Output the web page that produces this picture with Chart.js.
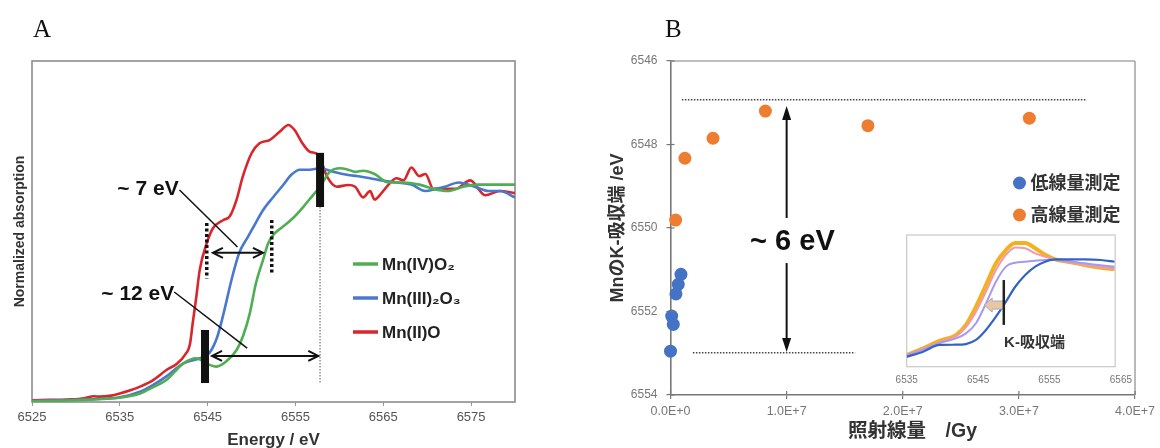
<!DOCTYPE html>
<html>
<head>
<meta charset="utf-8">
<script src="https://cdn.jsdelivr.net/npm/chart.js@4.4.1/dist/chart.umd.min.js"></script>
<style>
  html, body { margin: 0; padding: 0; background: #fff; }
  #fig { position: relative; width: 1160px; height: 448px; overflow: hidden; }
  canvas { position: absolute; }
  #cA { left: 0; top: 0; }
  #cB { left: 580px; top: 0; }
  #cIn { left: 870px; top: 225px; }
  .panel { position: absolute; top: 16px; font: 25px/1 "Liberation Serif", serif; color: #111; }
</style>
</head>
<body>
<div id="fig">
  <canvas id="cA" width="580" height="448"></canvas>
  <canvas id="cB" width="580" height="448"></canvas>
  <canvas id="cIn" width="270" height="170"></canvas>
  <div class="panel" style="left:33px">A</div>
  <div class="panel" style="left:665px">B</div>
</div>
<script>
"use strict";

// --- Panel A: Mn K-edge XANES of reference oxides ------------------------- //
const energyTicksA = [6525, 6535, 6545, 6555, 6565, 6575];

const mnO2E = [6525, 6528, 6531, 6533, 6535, 6537.3, 6538.8, 6540.3, 6541.2, 6542.2, 6543.7, 6544.9,
  6546.0, 6547.1, 6548.3, 6549.0, 6549.8, 6550.5, 6551.3, 6551.9, 6552.6, 6553.6, 6554.7, 6555.9,
  6557.0, 6557.8, 6558.9, 6560.1, 6561.0, 6561.8, 6562.7, 6564.0, 6565.6, 6567.3, 6569.1, 6570.7,
  6572.3, 6574.1, 6575.8, 6577.4, 6580];
const mnO2 = [0.004, 0.006, 0.01, 0.014, 0.02, 0.04, 0.07, 0.103, 0.14, 0.18, 0.205, 0.18,
  0.166, 0.19, 0.244, 0.306, 0.416, 0.557, 0.666, 0.745, 0.79, 0.823, 0.862, 0.916,
  0.971, 1.01, 1.08, 1.097, 1.09, 1.08, 1.085, 1.07, 1.03, 1.03, 1.02, 1.0,
  0.99, 1.01, 1.02, 1.02, 1.02];

const mn2O3E = [6525, 6528, 6531, 6533, 6535, 6537.3, 6538.8, 6540.3, 6541.2, 6542.2, 6543.2, 6544.1,
  6545.2, 6546.1, 6546.9, 6547.7, 6548.6, 6549.6, 6550.2, 6551.3, 6552.5, 6553.6, 6554.5, 6555.5,
  6556.6, 6557.8, 6559.3, 6561.0, 6562.0, 6563.5, 6564.8, 6566.5, 6568.2, 6569.8, 6571.0, 6572.0,
  6573.6, 6575.4, 6577.0, 6578.3, 6580];
const mn2O3 = [0.005, 0.008, 0.012, 0.015, 0.022, 0.048, 0.08, 0.12, 0.15, 0.18, 0.195, 0.205,
  0.23, 0.306, 0.43, 0.57, 0.70, 0.776, 0.82, 0.90, 0.963, 1.018, 1.065, 1.09,
  1.09, 1.097, 1.08, 1.065, 1.06, 1.05, 1.04, 1.03, 1.02, 0.99, 1.0, 1.01,
  1.03, 1.01, 0.99, 0.99, 0.96];

const mnOE = [6525, 6527, 6529, 6531, 6532, 6532.7, 6534, 6535, 6536.2, 6537.3, 6538.8, 6540.3,
  6541.5, 6542.4, 6543.0, 6543.3, 6543.7, 6544.1, 6544.9, 6545.6, 6546.8, 6547.5, 6548.3, 6549.0,
  6550.0, 6550.9, 6552.1, 6553.2, 6554.2, 6554.9, 6555.7, 6556.6, 6557.6, 6558.6, 6559.7, 6561.0,
  6561.8, 6562.7, 6563.5, 6564.0, 6564.8, 6565.6, 6566.5, 6567.3, 6568.2, 6569.1, 6569.8, 6570.7,
  6572.0, 6573.2, 6574.9, 6576.6, 6578.3, 6580];
const mnO = [0.008, 0.01, 0.012, 0.018, 0.027, 0.025, 0.03, 0.04, 0.055, 0.072, 0.103, 0.15,
  0.18, 0.22, 0.275, 0.37, 0.49, 0.62, 0.745, 0.815, 0.854, 0.87, 0.95, 1.057,
  1.167, 1.214, 1.23, 1.268, 1.30, 1.276, 1.22, 1.175, 1.16, 1.057, 1.01, 1.018,
  1.01, 0.96, 0.99, 0.95, 0.98, 1.02, 1.05, 1.04, 1.10, 1.06, 1.07, 1.0,
  1.0, 1.0, 1.04, 0.97, 0.99, 0.98];

// --- Panel B: edge position vs dose --------------------------------------- //
const doseTicks = [0, 1e7, 2e7, 3e7, 4e7];
const edgeTicks = [6546, 6548, 6550, 6552, 6554];
const lowDoseX = [9.0e5, 6.7e5, 4.7e5, 1.0e5, 2.4e5, 0];
const lowDoseEdge = [6551.11, 6551.35, 6551.58, 6552.11, 6552.31, 6552.95];
const highDoseX = [4.4e5, 1.24e6, 3.66e6, 8.17e6, 1.70e7, 3.09e7];
const highDoseEdge = [6549.81, 6548.33, 6547.85, 6547.2, 6547.55, 6547.37];

// --- Inset: spectra at increasing dose ------------------------------------ //
const insetTicks = [6535, 6545, 6555, 6565];
const insetE = [6535, 6537.3, 6539.6, 6541.9, 6543.3, 6544.7, 6546.1, 6547.5, 6548.9, 6550.2,
  6551.6, 6553.0, 6554.4, 6555.8, 6557.6, 6559.9, 6562.2, 6564.1];
const insetBlue = [0.076, 0.114, 0.165, 0.167, 0.172, 0.203, 0.279, 0.38, 0.494, 0.607,
  0.696, 0.76, 0.797, 0.815, 0.815, 0.815, 0.81, 0.797];
const insetViolet = [0.085, 0.13, 0.18, 0.215, 0.253, 0.33, 0.48, 0.645, 0.76, 0.79,
  0.797, 0.805, 0.81, 0.81, 0.80, 0.785, 0.77, 0.76];
const insetPink = [0.089, 0.135, 0.185, 0.23, 0.30, 0.418, 0.57, 0.734, 0.85, 0.906,
  0.90, 0.86, 0.835, 0.815, 0.795, 0.775, 0.755, 0.745];
const insetYellow = [0.089, 0.14, 0.197, 0.24, 0.317, 0.456, 0.62, 0.785, 0.886, 0.94,
  0.94, 0.90, 0.85, 0.815, 0.797, 0.772, 0.752, 0.74];

const SANS = "'Liberation Sans','Noto Sans CJK JP',Arial,sans-serif";
const GREEN = "#4fae52", BLUE = "#4a78cf", RED = "#d9262a";
const XL_BLUE = "#4472c4", XL_ORANGE = "#ed7d31";

const pts = (xs, ys) => xs.map((x, i) => ({ x, y: ys[i] }));

function line(ctx, x0, y0, x1, y1) {
  ctx.beginPath(); ctx.moveTo(x0, y0); ctx.lineTo(x1, y1); ctx.stroke();
}

// tip at (x, y), pointing along ang
function arrowHead(ctx, x, y, ang, len, half, filled) {
  ctx.save();
  ctx.translate(x, y); ctx.rotate(ang);
  ctx.beginPath(); ctx.moveTo(-len, -half); ctx.lineTo(0, 0); ctx.lineTo(-len, half);
  if (filled) { ctx.closePath(); ctx.fill(); } else ctx.stroke();
  ctx.restore();
}

function fixedTicks(list) {
  return (s) => { s.ticks = list.map((v) => ({ value: v })); };
}

// --- Chart A -------------------------------------------------------------- //
const annotateA = {
  id: "annotateA",
  beforeDatasetsDraw(chart) {
    const { ctx, chartArea: a } = chart;
    ctx.save();
    ctx.strokeStyle = "#8c8c8c"; ctx.lineWidth = 1.6;
    ctx.strokeRect(a.left, a.top, a.right - a.left, a.bottom - a.top);
    ctx.restore();
  },
  afterDatasetsDraw(chart) {
    const { ctx, chartArea: a, scales: { x, y } } = chart;
    const X = (v) => x.getPixelForValue(v), Y = (v) => y.getPixelForValue(v);
    ctx.save();
    ctx.strokeStyle = "#111"; ctx.fillStyle = "#111";

    // thin dotted drop line under the upper edge bar
    ctx.lineWidth = 1; ctx.strokeStyle = "#555"; ctx.setLineDash([1.5, 1.5]);
    line(ctx, X(6557.8), Y(0.915), X(6557.8), Y(0.089));
    // thick dotted markers
    ctx.strokeStyle = "#111"; ctx.lineWidth = 3.5; ctx.setLineDash([3, 2.5]);
    line(ctx, X(6544.9), Y(0.84), X(6544.9), Y(0.58));
    line(ctx, X(6552.3), Y(0.854), X(6552.3), Y(0.596));
    ctx.setLineDash([]);

    // solid edge bars
    ctx.lineWidth = 8; ctx.lineCap = "butt";
    line(ctx, X(6557.8), Y(1.169), X(6557.8), Y(0.915));
    line(ctx, X(6544.7), Y(0.338), X(6544.7), Y(0.089));

    // double arrows
    ctx.lineWidth = 2;
    const dbl = (e0, e1, v) => {
      line(ctx, X(e0), Y(v), X(e1), Y(v));
      arrowHead(ctx, X(e0), Y(v), Math.PI, 10, 5, false);
      arrowHead(ctx, X(e1), Y(v), 0, 10, 5, false);
    };
    dbl(6545.6, 6551.3, 0.70);
    dbl(6545.5, 6557.6, 0.216);

    // leader lines
    ctx.lineWidth = 1.5;
    line(ctx, X(6541.8), Y(0.995), X(6548.4), Y(0.727));
    line(ctx, X(6541.2), Y(0.516), X(6549.5), Y(0.253));

    // labels
    ctx.font = "bold 21px " + SANS;
    ctx.textAlign = "right"; ctx.textBaseline = "middle";
    ctx.fillText("~ 7 eV", X(6541.7), Y(1.0));
    ctx.fillText("~ 12 eV", X(6541.2), Y(0.505));

    // legend
    const rows = [[GREEN, "Mn(IV)O₂"], [BLUE, "Mn(III)₂O₃"], [RED, "Mn(II)O"]];
    ctx.font = "bold 17px " + SANS; ctx.textAlign = "left";
    rows.forEach(([c, t], i) => {
      const ly = a.top + 203 + i * 34;
      ctx.strokeStyle = c; ctx.lineWidth = 3.5;
      line(ctx, a.left + 321, ly, a.left + 346, ly);
      ctx.fillStyle = "#222";
      ctx.fillText(t, a.left + 350, ly + 1);
    });
    ctx.restore();
  },
};

const lineDs = (label, xs, ys, color) => ({
  label, data: pts(xs, ys), borderColor: color, backgroundColor: color,
  borderWidth: 2.6, pointRadius: 0, cubicInterpolationMode: "monotone",
});

new Chart(document.getElementById("cA"), {
  type: "line",
  data: {
    datasets: [
      lineDs("Mn(IV)O2", mnO2E, mnO2, GREEN),
      lineDs("Mn(III)2O3", mn2O3E, mn2O3, BLUE),
      lineDs("Mn(II)O", mnOE, mnO, RED),
    ],
  },
  options: {
    responsive: false, animation: false,
    layout: { padding: { left: 0, top: 61, right: 65, bottom: 0 } },
    plugins: { legend: { display: false }, tooltip: { enabled: false } },
    scales: {
      x: {
        type: "linear", min: 6525, max: 6580,
        afterBuildTicks: fixedTicks(energyTicksA),
        afterFit: (s) => { s.height = 46; },
        ticks: { color: "#555", font: { family: SANS, size: 13 }, padding: 4, maxRotation: 0,
                 callback: (v) => String(v) },
        grid: { drawOnChartArea: false, drawTicks: true, tickLength: 4, color: "#999" },
        border: { display: false },
        title: { display: true, text: "Energy / eV", color: "#333",
                 font: { family: SANS, size: 17, weight: "bold", lineHeight: 1 },
                 padding: { top: 0, bottom: -0.5 } },
      },
      y: {
        min: 0, max: 1.6,
        afterFit: (s) => { s.width = 32; },
        ticks: { display: false },
        grid: { display: false },
        border: { display: false },
        title: { display: true, text: "Normalized absorption", color: "#333",
                 font: { family: SANS, size: 14, weight: "bold", lineHeight: 1 },
                 padding: { top: 13, bottom: 0 } },
      },
    },
  },
  plugins: [annotateA],
});

// --- Chart B -------------------------------------------------------------- //
const annotateB = {
  id: "annotateB",
  afterDraw(chart) {
    const { ctx, chartArea: a, scales: { x, y } } = chart;
    const X = (v) => x.getPixelForValue(v), Y = (v) => y.getPixelForValue(v);
    ctx.save();
    // top and right frame
    ctx.strokeStyle = "#a8a8a8"; ctx.lineWidth = 1.6;
    line(ctx, a.left, a.top, a.right, a.top);
    line(ctx, a.right, a.top, a.right, a.bottom);
    // inner half of the crossing tick marks
    ctx.strokeStyle = "#777"; ctx.lineWidth = 1.2;
    for (const t of y.ticks) line(ctx, a.left, Y(t.value), a.left + 4, Y(t.value));
    for (const t of x.ticks) line(ctx, X(t.value), a.bottom, X(t.value), a.bottom - 4);

    // dotted guide levels
    ctx.strokeStyle = "#444"; ctx.lineWidth = 1.5; ctx.setLineDash([1.5, 1.5]);
    line(ctx, X(9.8e5), Y(6546.93), X(3.58e7), Y(6546.93));
    line(ctx, X(1.93e6), Y(6552.99), X(1.59e7), Y(6552.99));
    ctx.setLineDash([]);

    // vertical double arrow with label in the gap
    ctx.strokeStyle = "#111"; ctx.fillStyle = "#111"; ctx.lineWidth = 2;
    line(ctx, X(1e7), Y(6547.25), X(1e7), Y(6549.76));
    line(ctx, X(1e7), Y(6550.84), X(1e7), Y(6552.8));
    arrowHead(ctx, X(1e7), Y(6547.08), -Math.PI / 2, 14, 4.5, true);
    arrowHead(ctx, X(1e7), Y(6552.97), Math.PI / 2, 14, 4.5, true);
    ctx.font = "bold 29px " + SANS;
    ctx.textAlign = "center"; ctx.textBaseline = "middle";
    ctx.fillText("~ 6 eV", X(1.05e7), Y(6550.34));

    // legend
    const rows = [[XL_BLUE, "低線量測定"], [XL_ORANGE, "高線量測定"]];
    ctx.font = "bold 18px " + SANS; ctx.textAlign = "left";
    rows.forEach(([c, t], i) => {
      const ly = a.top + 122 + i * 32;
      ctx.fillStyle = c;
      ctx.beginPath(); ctx.arc(a.left + 349, ly, 6.5, 0, Math.PI * 2); ctx.fill();
      ctx.fillStyle = "#333";
      ctx.fillText(t, a.left + 360, ly + 1);
    });
    ctx.restore();
  },
};

new Chart(document.getElementById("cB"), {
  type: "scatter",
  data: {
    datasets: [
      { label: "低線量測定", data: pts(lowDoseX, lowDoseEdge), backgroundColor: XL_BLUE,
        borderWidth: 0, pointRadius: 6.5, clip: false },
      { label: "高線量測定", data: pts(highDoseX, highDoseEdge), backgroundColor: XL_ORANGE,
        borderWidth: 0, pointRadius: 6.5, clip: false },
    ],
  },
  options: {
    responsive: false, animation: false,
    layout: { padding: { left: 0, top: 61, right: 22.6, bottom: 0 } },
    plugins: { legend: { display: false }, tooltip: { enabled: false } },
    scales: {
      x: {
        type: "linear", min: 0, max: 4e7,
        afterBuildTicks: fixedTicks(doseTicks),
        afterFit: (s) => { s.height = 53; },
        ticks: { color: "#777", font: { family: SANS, size: 12.5 }, padding: 5, maxRotation: 0,
                 callback: (v) => v.toExponential(1).toUpperCase() },
        grid: { drawOnChartArea: false, tickLength: 4, color: "#777", lineWidth: 1.2 },
        border: { color: "#777", width: 1.6 },
        title: { display: true, text: "\u2003照射線量　/Gy", color: "#333",
                 font: { family: SANS, size: 19.5, weight: "bold", lineHeight: 1 },
                 padding: { top: 0, bottom: 6.5 } },
      },
      y: {
        type: "linear", min: 6546, max: 6554, reverse: true,
        afterBuildTicks: fixedTicks(edgeTicks),
        afterFit: (s) => { s.width = 90.5; },
        ticks: { color: "#777", font: { family: SANS, size: 12 }, padding: 9,
                 callback: (v) => String(v) },
        grid: { drawOnChartArea: false, tickLength: 4, color: "#777", lineWidth: 1.2 },
        border: { color: "#777", width: 1.6 },
        title: { display: true, text: "MnのK-吸収端 /eV", color: "#333",
                 font: { family: SANS, size: 18, weight: "bold", lineHeight: 1 },
                 padding: { top: 29, bottom: 0 } },
      },
    },
  },
  plugins: [annotateB],
});

// --- Inset ---------------------------------------------------------------- //
const INSET_RIGHT = 6564.2;
const annotateInset = {
  id: "annotateInset",
  beforeDatasetsDraw(chart) {
    const { ctx, chartArea: a, scales: { x } } = chart;
    const r = x.getPixelForValue(INSET_RIGHT);
    ctx.save();
    ctx.fillStyle = "#fff";
    ctx.fillRect(a.left, a.top, r - a.left, a.bottom - a.top);
    ctx.strokeStyle = "#c8c8c8"; ctx.lineWidth = 1.2;
    ctx.strokeRect(a.left, a.top, r - a.left, a.bottom - a.top);
    ctx.restore();
  },
  afterDatasetsDraw(chart) {
    const { ctx, scales: { x, y } } = chart;
    const X = (v) => x.getPixelForValue(v), Y = (v) => y.getPixelForValue(v);
    ctx.save();
    // shift arrow
    const tipX = X(6545.85), baseX = X(6548.6), cy = Y(0.468);
    ctx.beginPath();
    ctx.moveTo(tipX, cy);
    ctx.lineTo(tipX + 8, cy - 7); ctx.lineTo(tipX + 8, cy - 4);
    ctx.lineTo(baseX, cy - 4); ctx.lineTo(baseX, cy + 4);
    ctx.lineTo(tipX + 8, cy + 4); ctx.lineTo(tipX + 8, cy + 7);
    ctx.closePath();
    ctx.fillStyle = "#e8c8a4"; ctx.fill();
    ctx.strokeStyle = "#a7a7bd"; ctx.lineWidth = 1; ctx.stroke();
    // edge marker
    ctx.strokeStyle = "#222"; ctx.lineWidth = 2.5;
    line(ctx, X(6548.6), Y(0.658), X(6548.6), Y(0.317));
    ctx.fillStyle = "#333";
    ctx.font = "bold 15px " + SANS;
    ctx.textAlign = "center"; ctx.textBaseline = "middle";
    ctx.fillText("K-吸収端", X(6552.9), Y(0.18));
    ctx.restore();
  },
};

const insetDs = (xs, ys, color, w) => ({
  data: pts(xs, ys), borderColor: color, borderWidth: w, pointRadius: 0,
  cubicInterpolationMode: "monotone",
});

new Chart(document.getElementById("cIn"), {
  type: "line",
  data: {
    datasets: [
      insetDs(insetE, insetBlue, "#3463c4", 2.2),
      insetDs(insetE, insetViolet, "#a699f2", 2),
      insetDs(insetE, insetPink, "#f09ab0", 2),
      insetDs(insetE, insetYellow, "#f3b01f", 4),
    ],
  },
  options: {
    responsive: false, animation: false,
    layout: { padding: { left: 36.7, top: 10, right: 17.4, bottom: 0 } },
    plugins: { legend: { display: false }, tooltip: { enabled: false } },
    scales: {
      x: {
        type: "linear", min: 6535, max: 6565,
        afterBuildTicks: fixedTicks(insetTicks),
        afterFit: (s) => { s.height = 28.3; },
        ticks: { color: "#777", font: { family: SANS, size: 10 }, padding: 8, maxRotation: 0,
                 callback: (v) => String(v) },
        grid: { display: false, drawTicks: false },
        border: { display: false },
      },
      y: { display: false, min: 0, max: 1 },
    },
  },
  plugins: [annotateInset],
});
</script>
</body>
</html>
